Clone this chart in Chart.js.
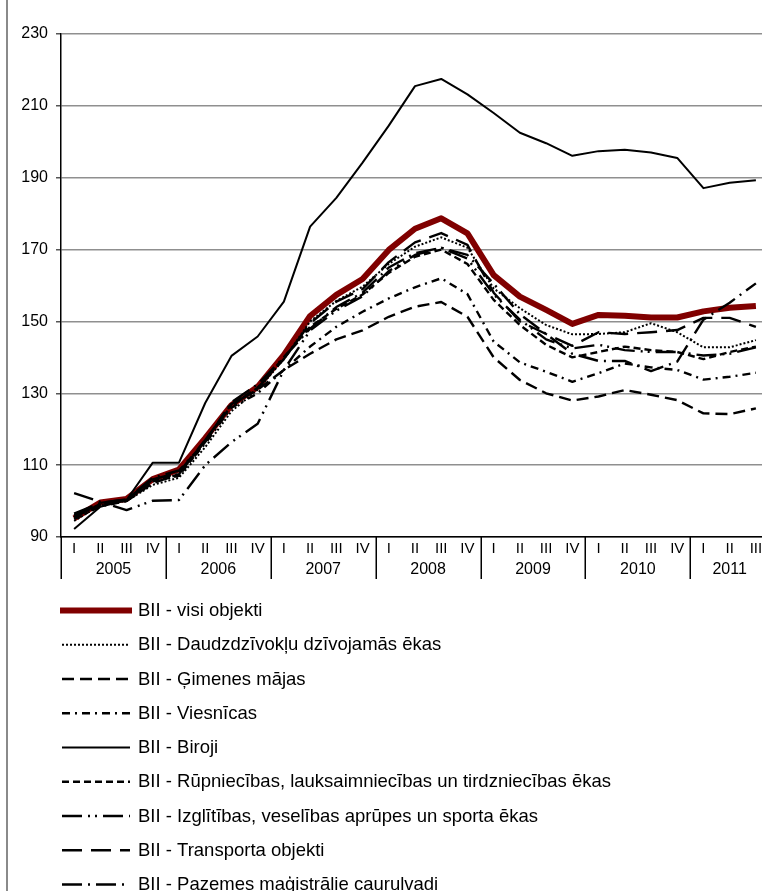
<!DOCTYPE html>
<html><head><meta charset="utf-8">
<script src="https://cdn.jsdelivr.net/npm/chart.js@4.4.0/dist/chart.umd.min.js"></script>
<style>
html,body{margin:0;padding:0;background:#fff;overflow:hidden;width:762px;height:891px}
#wrap{position:absolute;left:0;top:0;width:780px;height:891px}
</style>
</head><body><div id="wrap"><canvas id="c" width="780" height="891"></canvas></div>
<script>
// ---- data ----
const yearLabels = ['2005','2006','2007','2008','2009','2010','2011'];
const quarterLabels = ['I','II','III','IV','I','II','III','IV','I','II','III','IV','I','II','III','IV','I','II','III','IV','I','II','III','IV','I','II','III'];
const seriesNames = [
  'BII - visi objekti',
  'BII - Daudzdzīvokļu dzīvojamās ēkas',
  'BII - Ģimenes mājas',
  'BII - Viesnīcas',
  'BII - Biroji',
  'BII - Rūpniecības, lauksaimniecības un tirdzniecības ēkas',
  'BII - Izglītības, veselības aprūpes un sporta ēkas',
  'BII - Transporta objekti',
  'BII - Pazemes maģistrālie cauruļvadi'
];
const visiObjekti   = [95.2,99.6,100.6,106.1,108.8,117.5,126.7,131.8,140.7,151.5,157.4,161.8,169.9,175.8,178.7,174.5,162.9,156.9,153.2,149.3,151.8,151.6,151.1,151.1,152.8,153.8,154.3];
const daudzdzivoklu = [94.5,98.8,100.0,104.5,106.5,115.0,125.0,131.0,139.5,150.0,155.7,159.7,166.0,170.8,173.4,170.5,159.2,153.7,149.0,146.4,146.5,147.0,149.5,147.0,142.8,142.8,144.8];
const gimenesMajas  = [95.5,99.0,100.0,105.0,107.5,117.0,127.0,131.0,136.5,141.0,145.0,147.5,151.3,154.1,155.4,151.3,140.0,133.7,130.0,128.0,129.1,130.9,129.6,128.1,124.4,124.2,125.8];
const viesnicas     = [95.0,98.5,100.0,106.0,107.5,116.0,126.0,130.0,136.5,143.0,148.5,152.7,156.4,159.5,162.0,157.6,144.4,138.6,136.0,133.2,135.6,138.3,137.2,136.5,133.8,134.6,135.7];
const biroji        = [92.2,98.4,100.3,110.7,110.7,127.3,140.4,145.8,155.5,176.4,184.4,194.2,204.5,215.5,217.5,213.2,208.0,202.5,199.6,196.1,197.4,197.8,197.0,195.5,187.1,188.6,189.3];
const rupniecibas   = [95.5,99.2,100.2,105.5,107.0,116.5,127.0,131.5,140.0,148.5,153.5,157.5,163.5,168.0,170.0,166.0,156.0,149.0,143.5,140.0,141.5,143.0,142.0,141.5,139.5,141.5,143.0];
const izglitibas    = [102.2,99.8,97.5,100.1,100.3,110.0,116.4,121.5,136.5,147.5,153.0,157.0,164.0,168.5,170.5,167.5,157.5,150.5,145.0,142.5,143.5,142.0,141.5,141.5,140.5,141.0,142.8];
const transporta    = [96.0,99.5,100.5,106.0,108.0,117.0,126.5,131.5,139.5,149.5,155.5,159.0,166.5,172.0,174.6,171.3,158.0,150.0,146.5,143.2,147.0,146.5,147.0,147.6,151.0,151.0,148.5];
const pazemes       = [96.5,99.5,100.5,106.5,108.5,116.5,127.5,132.5,140.0,148.0,154.0,158.0,165.0,169.0,170.5,168.5,160.5,152.0,146.5,141.0,139.0,139.0,136.2,138.8,150.5,155.2,160.6];
const yTicks = {min: 90, max: 230, step: 20};

// ---- styles ----
const FONT = "'Liberation Sans', Arial, sans-serif";
const styles = [
  {color:'#800000', width:6, dash:[]},
  {color:'#000', width:2, dash:[2,2]},
  {color:'#000', width:2.4, dash:[12,6]},
  {color:'#000', width:2.4, dash:[8,5,2,5]},
  {color:'#000', width:2, dash:[]},
  {color:'#000', width:2.4, dash:[7,4]},
  {color:'#000', width:2.4, dash:[20,6,2,5,2,6]},
  {color:'#000', width:2.4, dash:[20,9]},
  {color:'#000', width:2.4, dash:[20,6,2,6]}
];
const seriesData = [visiObjekti,daudzdzivoklu,gimenesMajas,viesnicas,biroji,rupniecibas,izglitibas,transporta,pazemes];
const categories = quarterLabels.map((q,i)=> yearLabels[Math.floor(i/4)] + ' ' + q);

const datasets = seriesData.map((d,i)=>({
  label: seriesNames[i],
  data: d,
  borderColor: styles[i].color,
  backgroundColor: styles[i].color,
  borderWidth: styles[i].width,
  borderDash: styles[i].dash,
  borderCapStyle: 'butt',
  borderJoinStyle: 'round',
  pointRadius: 0,
  tension: 0,
  fill: false,
  order: seriesData.length - i
}));

const frame = {
  id:'frame',
  beforeDraw(chart){
    const ctx = chart.ctx;
    ctx.save();
    ctx.fillStyle='#fff';
    ctx.fillRect(0,0,chart.width,chart.height);
    ctx.strokeStyle='#8a8a8a';
    ctx.lineWidth=2;
    ctx.beginPath(); ctx.moveTo(7,0); ctx.lineTo(7,chart.height); ctx.stroke();
    ctx.restore();
  }
};

const yearAxis = {
  id:'yearAxis',
  afterDraw(chart){
    const ctx = chart.ctx, x = chart.scales.x, area = chart.chartArea;
    const half = (x.getPixelForValue(1) - x.getPixelForValue(0))/2;
    ctx.save();
    ctx.strokeStyle='#000'; ctx.lineWidth=1.5;
    ctx.fillStyle='#000';
    ctx.font = '16px ' + FONT;
    ctx.textAlign='center'; ctx.textBaseline='middle';
    yearLabels.forEach((yl,k)=>{
      const s = 4*k, e = Math.min(4*k+3, quarterLabels.length-1);
      const bx = Math.round(x.getPixelForValue(s) - half) + 0.25;
      ctx.beginPath(); ctx.moveTo(bx, area.bottom); ctx.lineTo(bx, area.bottom+42); ctx.stroke();
      let sum=0; for(let j=s;j<=e;j++) sum += x.getPixelForValue(j);
      ctx.fillText(yl, sum/(e-s+1), area.bottom+33);
    });
    ctx.restore();
  }
};

const legendPlugin = {
  id:'customLegend',
  afterDraw(chart){
    const ctx = chart.ctx;
    ctx.save();
    chart.data.datasets.forEach((ds,i)=>{
      const y = 610.5 + i*34.25;
      ctx.beginPath();
      ctx.setLineDash(ds.borderDash);
      ctx.lineWidth = ds.borderWidth;
      ctx.strokeStyle = ds.borderColor;
      ctx.lineCap='butt';
      ctx.moveTo(i===0?60:62, y); ctx.lineTo(i===0?132:130, y);
      ctx.stroke();
      ctx.setLineDash([]);
      ctx.fillStyle='#000';
      ctx.font='18.5px ' + FONT;
      ctx.textAlign='left'; ctx.textBaseline='middle';
      ctx.fillText(ds.label, 138, y+0.5);
    });
    ctx.restore();
  }
};

new Chart(document.getElementById('c'), {
  type:'line',
  data:{labels: categories, datasets},
  options:{
    responsive:false,
    animation:false,
    devicePixelRatio:1,
    layout:{padding:{top:34,left:0,right:11,bottom:0}},
    plugins:{legend:{display:false}, tooltip:{enabled:false}},
    scales:{
      x:{
        type:'category',
        offset:true,
        grid:{display:false, drawTicks:false},
        border:{display:true, color:'#000', width:1.5},
        ticks:{autoSkip:false, maxRotation:0, minRotation:0, color:'#000', font:{family:FONT, size:15}, padding:3,
          callback:(v,i)=>quarterLabels[i]},
        afterFit(s){ s.height = 891-537; }
      },
      y:{
        min:yTicks.min, max:yTicks.max,
        ticks:{stepSize:yTicks.step, color:'#000', font:{family:FONT, size:16}, padding:8},
        grid:{color:'#8f8f8f', lineWidth:1.5, tickLength:5, tickColor:'#555'},
        border:{display:true, color:'#000', width:1.5},
        afterFit(s){ s.width = 61; }
      }
    }
  },
  plugins:[frame, yearAxis, legendPlugin]
});
</script>
</body></html>
